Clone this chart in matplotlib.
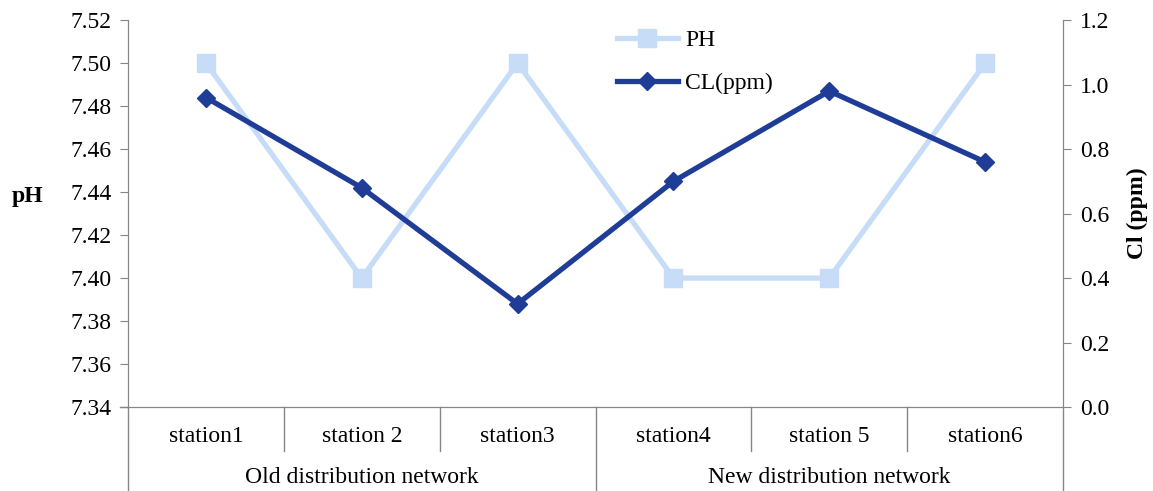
import matplotlib.pyplot as plt
import matplotlib.transforms as mtransforms
import numpy as np

stations = ['station1', 'station 2', 'station3', 'station4', 'station 5', 'station6']
groups = ['Old distribution network', 'New distribution network']
ph = [7.50, 7.40, 7.50, 7.40, 7.40, 7.50]
cl = [0.96, 0.68, 0.32, 0.70, 0.98, 0.76]

plt.rcParams['font.family'] = ['Liberation Serif', 'DejaVu Serif']
fs = 17

fig = plt.figure(figsize=(11.53, 4.91), dpi=100)
ax = fig.add_axes([0.111, 0.171, 0.811, 0.788])
ax2 = ax.twinx()

x = np.arange(len(stations))
gray = '#868686'

l1, = ax.plot(x, ph, color='#C6DCF7', lw=3.8, marker='s', ms=13, label='PH')
l2, = ax2.plot(x, cl, color='#1F3D96', lw=3.8, marker='D', ms=9, label='CL(ppm)')

ax.set_xlim(-0.5, 5.5)
ax.set_ylim(7.34, 7.52)
ax.set_yticks(np.arange(7.34, 7.5201, 0.02))
ax.set_yticklabels([f'{v:.2f}' for v in np.arange(7.34, 7.5201, 0.02)])
ax2.set_ylim(0, 1.2)
ax2.set_yticks(np.arange(0, 1.201, 0.2))
ax2.set_yticklabels([f'{v:.1f}' for v in np.arange(0, 1.201, 0.2)])

for a in (ax, ax2):
    a.spines['top'].set_visible(False)
    for s in ('left', 'right', 'bottom'):
        a.spines[s].set_color(gray)
    a.tick_params(axis='y', color=gray, length=6, labelsize=fs, pad=6)
ax.set_xticks([])

trans = mtransforms.blended_transform_factory(ax.transData, ax.transAxes)
# station separators
for b in [0.5, 1.5, 3.5, 4.5]:
    ax.plot([b, b], [0, -0.114], transform=trans, color=gray, lw=1, clip_on=False)
for b in [-0.5, 2.5, 5.5]:
    ax.plot([b, b], [0, -0.217], transform=trans, color=gray, lw=1, clip_on=False)
ax.plot([-0.55, -0.5], [0, 0], transform=trans, color=gray, lw=1, clip_on=False)

for i, s in enumerate(stations):
    ax.text(i, -0.075, s, transform=trans, ha='center', va='center', fontsize=fs)
for i, g in enumerate(groups):
    ax.text(1 + 3 * i, -0.183, g, transform=trans, ha='center', va='center', fontsize=fs)

ax.text(-0.107, 0.545, 'pH', transform=ax.transAxes, ha='center', va='center',
        fontsize=fs, fontweight='bold')
ax2.text(1.08, 0.5, 'Cl (ppm)', transform=ax2.transAxes, ha='center', va='center',
         rotation=90, fontsize=fs, fontweight='bold')

ax.legend([l1, l2], ['PH', 'CL(ppm)'], loc='upper left', bbox_to_anchor=(0.5, 1.03),
          frameon=False, fontsize=fs, handlelength=2.6, labelspacing=0.9,
          handletextpad=0.3)

fig.savefig('out.png', dpi=100)
